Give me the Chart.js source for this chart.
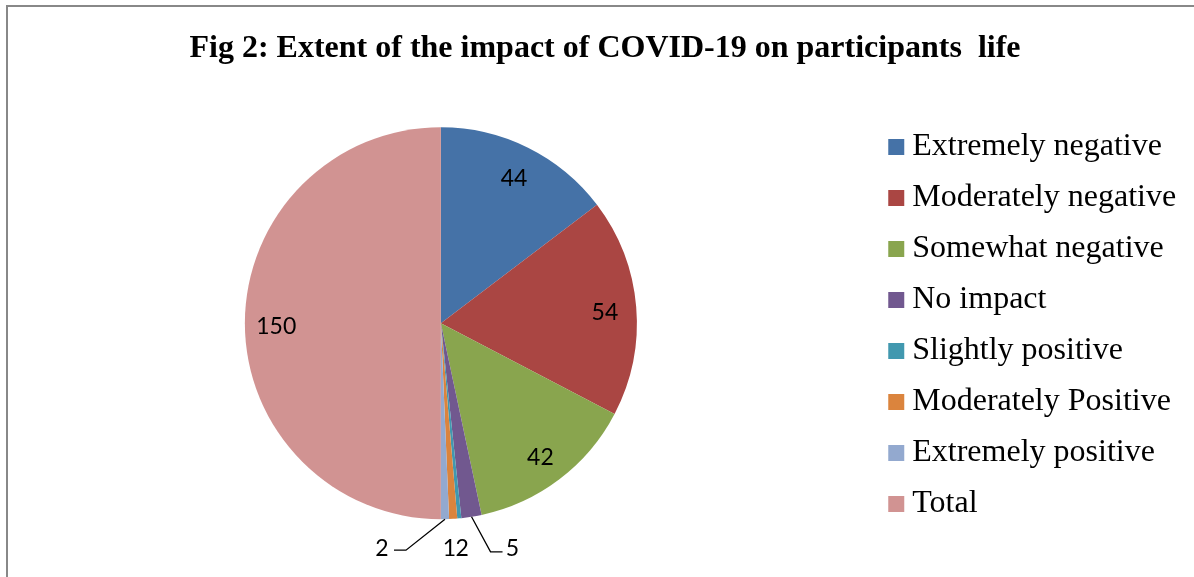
<!DOCTYPE html>
<html>
<head>
<meta charset="utf-8">
<script src="https://cdn.jsdelivr.net/npm/chart.js@4"></script>
<style>
html, body { margin: 0; padding: 0; background: #fff; overflow: hidden; }
#frame { position: absolute; left: 6px; top: 5px; width: 1200px; height: 580px; border-left: 2px solid #888; border-top: 2px solid #888; }
#wrap { position: absolute; left: 0; top: 0; width: 1210px; height: 577px; }
</style>
</head>
<body>
<div id="frame"></div>
<div id="wrap"><canvas id="chart-impact"></canvas></div>
<script>
const categories = ['Extremely negative', 'Moderately negative', 'Somewhat negative', 'No impact',
    'Slightly positive', 'Moderately Positive', 'Extremely positive', 'Total'];
const counts = [44, 54, 42, 5, 1, 2, 2, 150];
const sliceColors = ['#4572A7', '#AA4643', '#89A54E', '#71588F', '#4198AF', '#DB843D', '#93A9CF', '#D19392'];

// where each value label goes: inside the slice, or offset from the slice's outer edge (with optional leader line)
const labelPlacement = [
    { inside: true }, { inside: true }, { inside: true },
    { dx: 41, dy: 32, leader: [[19, 35], [31, 35]] },
    { dx: -10, dy: 30 },
    { dx: 9, dy: 30 },
    { dx: -63, dy: 29, leader: [[-39, 31], [-51, 31]] },
    { inside: true }
];

const pieLabels = {
    id: 'pieLabels',
    afterDatasetsDraw(chart) {
        const ctx = chart.ctx;
        const meta = chart.getDatasetMeta(0);
        ctx.save();
        ctx.font = '23px Lato';
        ctx.fillStyle = '#000';
        ctx.strokeStyle = '#000';
        ctx.lineWidth = 1.3;
        ctx.textAlign = 'center';
        ctx.textBaseline = 'middle';
        meta.data.forEach((arc, i) => {
            const { x, y, startAngle, endAngle, outerRadius } =
                arc.getProps(['x', 'y', 'startAngle', 'endAngle', 'outerRadius'], true);
            const mid = (startAngle + endAngle) / 2;
            const p = labelPlacement[i];
            if (p.inside) {
                const r = outerRadius * 0.84;
                ctx.fillText(String(counts[i]), x + Math.cos(mid) * r, y + Math.sin(mid) * r + 3);
                return;
            }
            const ex = x + Math.cos(mid) * outerRadius;
            const ey = y + Math.sin(mid) * outerRadius;
            if (p.leader) {
                ctx.beginPath();
                ctx.moveTo(ex, ey);
                p.leader.forEach(([lx, ly]) => ctx.lineTo(ex + lx, ey + ly));
                ctx.stroke();
            }
            ctx.fillText(String(counts[i]), ex + p.dx, ey + p.dy);
        });
        ctx.restore();
    }
};

// empty box to the right of the legend, so the legend sits left of the title's right edge
const rightGap = {
    id: 'rightGap',
    beforeInit(chart, args, opts) {
        Chart.layouts.addBox(chart, {
            position: 'right',
            weight: 2000,
            fullSize: false,
            options: {},
            width: 0,
            height: 0,
            isHorizontal() { return false; },
            getPadding() { return { top: 0, left: 0, right: 0, bottom: 0 }; },
            update(maxWidth, maxHeight) { this.width = opts.width || 0; this.height = maxHeight; },
            draw() {}
        });
    }
};

document.addEventListener('DOMContentLoaded', () => {
    const ctx = document.getElementById('chart-impact');
    if (!ctx) return;

    new Chart(ctx, {
        type: 'pie',
        data: {
            labels: categories,
            datasets: [{ data: counts, backgroundColor: sliceColors, borderWidth: 0, radius: 196 }]
        },
        options: {
            responsive: true,
            maintainAspectRatio: false,
            animation: false,
            layout: { padding: { left: 4.5, right: 4.5, top: 0, bottom: 38 } },
            plugins: {
                title: {
                    display: true,
                    text: 'Fig 2: Extent of the impact of COVID-19 on participants  life',
                    color: '#000',
                    font: { family: 'Liberation Serif', size: 32, weight: 'bold' },
                    padding: { top: 30, bottom: 39 }
                },
                legend: {
                    position: 'right',
                    align: 'end',
                    labels: {
                        color: '#000',
                        font: { family: 'Liberation Serif', size: 32 },
                        usePointStyle: true,
                        pointStyle: 'rect',
                        boxWidth: 0.01,
                        boxHeight: 16,
                        padding: 19
                    }
                },
                rightGap: { width: 28 },
                tooltip: { enabled: false }
            }
        },
        plugins: [pieLabels, rightGap]
    });
});
</script>
</body>
</html>
